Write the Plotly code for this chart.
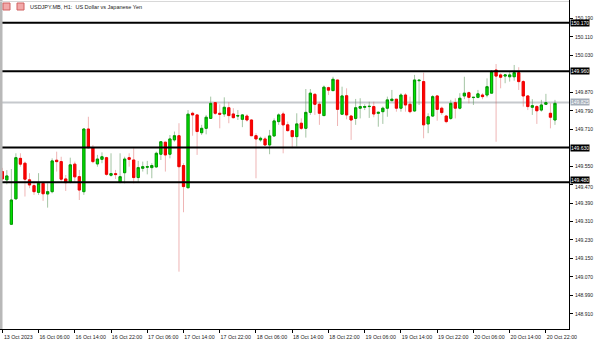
import plotly.graph_objects as go

# ---- data (USDJPY.MB, H1) ----
open_ = [149.526,149.490,149.298,149.408,149.583,149.562,149.490,149.465,149.436,149.475,
         149.429,149.439,149.575,149.569,149.494,149.480,149.558,149.504,149.439,149.710,
         149.629,149.559,149.579,149.586,149.510,149.517,149.480,149.521,149.586,149.576,
         149.500,149.540,149.545,149.543,149.546,149.601,149.653,149.601,149.663,149.681,
         149.552,149.456,149.778,149.771,149.694,149.713,149.756,149.824,149.778,149.775,
         149.802,149.775,149.766,149.752,149.766,149.749,149.681,149.663,149.667,149.641,
         149.680,149.742,149.775,149.728,149.703,149.677,149.735,149.713,149.782,149.860,
         149.817,149.768,149.889,149.876,149.922,149.774,149.854,149.766,149.756,149.800,
         149.804,149.807,149.807,149.778,149.785,149.800,149.833,149.839,149.800,149.857,
         149.817,149.788,149.919,149.915,149.732,149.766,149.853,149.800,149.766,149.756,
         149.824,149.800,149.853,149.867,149.846,149.847,149.857,149.857,149.865,149.965,
         149.944,149.939,149.936,149.936,149.954,149.915,149.853,149.804,149.807,149.792,
         149.817,149.778,149.749]
high = [149.542,149.532,149.537,149.605,149.605,149.569,149.519,149.475,149.519,149.482,
        149.475,149.583,149.612,149.590,149.511,149.586,149.569,149.533,149.713,149.763,
        149.641,149.598,149.609,149.590,149.605,149.533,149.605,149.590,149.605,149.627,
        149.572,149.569,149.572,149.562,149.612,149.655,149.655,149.684,149.699,149.735,
        149.562,149.792,149.785,149.771,149.728,149.771,149.850,149.824,149.817,149.847,
        149.826,149.800,149.792,149.774,149.774,149.752,149.692,149.677,149.677,149.706,
        149.756,149.778,149.785,149.742,149.706,149.778,149.756,149.883,149.883,149.865,
        149.828,149.898,149.893,149.936,149.922,149.893,149.886,149.771,149.840,149.843,
        149.817,149.828,149.828,149.785,149.807,149.850,149.879,149.839,149.865,149.865,
        149.850,149.944,149.922,149.954,149.778,149.857,149.857,149.807,149.771,149.836,
        149.843,149.865,149.936,149.872,149.847,149.879,149.865,149.929,149.965,149.991,
        149.951,149.944,149.958,149.987,149.977,149.922,149.857,149.839,149.814,149.836,
        149.862,149.821,149.836]
low = [149.485,149.471,149.295,149.405,149.547,149.418,149.454,149.425,149.425,149.399,
       149.370,149.432,149.526,149.480,149.442,149.475,149.482,149.403,149.425,149.627,
       149.562,149.547,149.562,149.508,149.504,149.494,149.475,149.475,149.547,149.475,
       149.480,149.526,149.514,149.497,149.543,149.576,149.526,149.583,149.655,149.093,
       149.350,149.454,149.681,149.598,149.684,149.687,149.756,149.771,149.713,149.763,
       149.735,149.756,149.749,149.718,149.742,149.680,149.497,149.655,149.637,149.601,
       149.677,149.728,149.605,149.699,149.627,149.634,149.706,149.673,149.771,149.771,
       149.728,149.768,149.857,149.876,149.723,149.774,149.752,149.663,149.728,149.756,
       149.792,149.758,149.761,149.720,149.732,149.763,149.828,149.785,149.785,149.785,
       149.778,149.785,149.814,149.670,149.692,149.763,149.746,149.771,149.735,149.749,
       149.756,149.795,149.839,149.821,149.814,149.843,149.839,149.847,149.865,149.655,
       149.886,149.908,149.915,149.919,149.879,149.807,149.792,149.771,149.732,149.785,
       149.814,149.713,149.728]
close = [149.494,149.507,149.403,149.586,149.558,149.493,149.468,149.439,149.475,149.430,
         149.439,149.572,149.569,149.493,149.478,149.555,149.503,149.446,149.710,149.629,
         149.569,149.580,149.590,149.514,149.517,149.513,149.504,149.580,149.579,149.500,
         149.543,149.547,149.547,149.552,149.605,149.655,149.598,149.667,149.681,149.547,
         149.461,149.774,149.771,149.699,149.713,149.761,149.821,149.778,149.774,149.804,
         149.768,149.759,149.768,149.771,149.749,149.681,149.667,149.670,149.641,149.680,
         149.745,149.771,149.728,149.703,149.677,149.732,149.713,149.782,149.865,149.817,
         149.778,149.891,149.878,149.925,149.795,149.853,149.771,149.749,149.802,149.807,
         149.807,149.808,149.775,149.782,149.800,149.836,149.839,149.800,149.857,149.814,
         149.785,149.922,149.921,149.728,149.763,149.850,149.795,149.781,149.742,149.821,
         149.800,149.843,149.865,149.847,149.847,149.862,149.850,149.893,149.958,149.939,
         149.934,149.944,149.944,149.954,149.915,149.853,149.807,149.811,149.789,149.814,
         149.824,149.761,149.821]

tick_idx = [0, 8, 16, 24, 32, 40, 48, 56, 64, 72, 80, 88, 96, 104, 112, 120]
tick_labels = ["13 Oct 2023", "16 Oct 06:00", "16 Oct 14:00", "16 Oct 22:00",
               "17 Oct 06:00", "17 Oct 14:00", "17 Oct 22:00", "18 Oct 06:00",
               "18 Oct 14:00", "18 Oct 22:00", "19 Oct 06:00", "19 Oct 14:00",
               "19 Oct 22:00", "20 Oct 06:00", "20 Oct 14:00", "20 Oct 22:00"]
y_ticks = [150.190, 150.110, 150.030, 149.870, 149.790, 149.710, 149.550, 149.470,
           149.390, 149.310, 149.230, 149.150, 149.070, 148.990, 148.910]
levels = [150.170, 149.960, 149.630, 149.480]
last_price = 149.825
title_text = "USDJPY.MB, H1:  US Dollar vs Japanese Yen"

x = list(range(len(open_)))
body_hi = [max(o, c) for o, c in zip(open_, close)]
body_lo = [min(o, c) for o, c in zip(open_, close)]

W, H = 600, 343
ML, MR, MT, MB = 0, 31, 0, 14
PW, PH = W - ML - MR, H - MT - MB
LABEL_FONT = dict(family="Liberation Sans", size=5, color="#222222")

fig = go.Figure()
# wicks
fig.add_trace(go.Candlestick(
    x=x, open=open_, high=high, low=low, close=close,
    increasing=dict(line=dict(color="rgba(90,150,90,0.55)", width=1), fillcolor="rgba(0,0,0,0)"),
    decreasing=dict(line=dict(color="rgba(220,90,90,0.45)", width=1), fillcolor="rgba(0,0,0,0)"),
    showlegend=False, hoverinfo="skip"))
# bodies
fig.add_trace(go.Candlestick(
    x=x, open=open_, high=body_hi, low=body_lo, close=close,
    increasing=dict(line=dict(color="#009a00", width=1), fillcolor="#00e400"),
    decreasing=dict(line=dict(color="#ee0000", width=1), fillcolor="#ff0000"),
    showlegend=False))

shapes = []
shapes.append(dict(type="line", xref="paper", x0=0, x1=1, yref="y", y0=last_price, y1=last_price,
                   line=dict(color="#c6c9cd", width=2), layer="below"))
for lv in levels:
    shapes.append(dict(type="line", xref="paper", x0=0, x1=1, yref="y", y0=lv, y1=lv,
                       line=dict(color="#000000", width=2)))
shapes.append(dict(type="rect", xref="paper", yref="paper", x0=0, x1=2.5 / PW, y0=0, y1=1,
                   fillcolor="#b8b8b8", line=dict(width=0)))
shapes.append(dict(type="line", xref="paper", yref="paper", x0=0, x1=1, y0=1 - 1.5 / PH, y1=1 - 1.5 / PH,
                   line=dict(color="#d8d8d8", width=1)))
for x0 in (3, 17):
    shapes.append(dict(type="rect", xref="paper", yref="paper",
                       x0=x0 / PW, x1=(x0 + 7) / PW, y0=1 - 10 / PH, y1=1 - 3 / PH,
                       fillcolor="#f2a9a9", line=dict(color="#d06060", width=1)))

annotations = [dict(text=title_text, xref="paper", yref="paper", x=28 / PW, y=1 - 7 / PH,
                    xanchor="left", yanchor="middle", showarrow=False,
                    font=dict(family="Liberation Sans", size=5.5, color="#222222"))]
# y tick labels drawn as text so the one under a level box can be nudged
for v in y_ticks:
    annotations.append(dict(text=f"{v:.3f}", xref="paper", yref="y", x=1, y=v, xshift=4,
                            yshift=-2.5 if v == 149.470 else 0,
                            xanchor="left", yanchor="middle", showarrow=False, font=LABEL_FONT))
for lv in levels:
    annotations.append(dict(text=f"{lv:.3f}", xref="paper", yref="y", x=1, y=lv, xshift=1,
                            yshift=2.5 if lv == 149.480 else 0,
                            xanchor="left", yanchor="middle", showarrow=False,
                            bgcolor="#000000", borderpad=0,
                            font=dict(family="Liberation Sans", size=5, color="#ffffff")))
annotations.append(dict(text=f"{last_price:.3f}", xref="paper", yref="y", x=1, y=last_price, xshift=1,
                        xanchor="left", yanchor="middle", showarrow=False,
                        bgcolor="#a4adb8", borderpad=0,
                        font=dict(family="Liberation Sans", size=5, color="#ffffff")))

fig.update_layout(
    width=W, height=H, autosize=False,
    margin=dict(l=ML, r=MR, t=MT, b=MB, pad=0),
    paper_bgcolor="#ffffff", plot_bgcolor="#ffffff",
    shapes=shapes, annotations=annotations,
    font=dict(family="Liberation Sans", size=5, color="#222222"),
    boxgap=0.3,
)
fig.update_xaxes(
    range=[-0.51, -0.51 + PW / 4.53], rangeslider=dict(visible=False),
    tickmode="array", tickvals=tick_idx, ticktext=tick_labels,
    ticks="outside", ticklen=3, tickcolor="#000000", tickwidth=1,
    showline=True, linecolor="#000000", linewidth=1, showgrid=False, zeroline=False,
    tickfont=dict(family="Liberation Sans", size=5.3, color="#222222"),
    ticklabelshift=16,
)
fig.update_yaxes(
    side="right", range=[148.845, 150.268],
    tickmode="array", tickvals=y_ticks, showticklabels=False,
    ticks="outside", ticklen=3, tickcolor="#000000", tickwidth=1,
    showline=True, linecolor="#000000", linewidth=1, showgrid=False, zeroline=False,
)

fig.write_html("out.html")
